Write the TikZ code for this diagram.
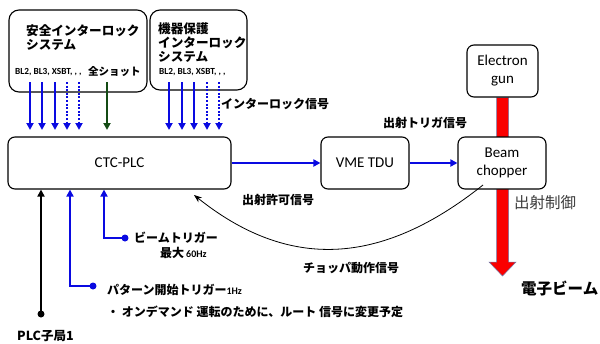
\documentclass[tikz,border=0pt]{standalone}
\usepackage{fontspec}
\setmainfont{Carlito}
\newfontfamily\jp{Noto Sans CJK JP}
\usetikzlibrary{arrows.meta,calc,backgrounds}
\definecolor{sigblue}{RGB}{10,10,225}
\definecolor{sigdark}{RGB}{20,75,20}
\definecolor{beamred}{RGB}{250,0,0}
\definecolor{beamedge}{RGB}{110,120,170}
\definecolor{ctlgray}{RGB}{60,60,60}
\tikzset{
  box/.style={draw, line width=1.1pt, rounded corners=7pt, fill=white, inner sep=0pt,
              font=\fontsize{15}{17}\selectfont, align=center},
  sysbox/.style={box, rounded corners=10pt},
  jb/.style={font=\jp\bfseries\fontsize{12}{14}\selectfont, inner sep=0pt, anchor=west},
  jtitle/.style={font=\jp\bfseries\fontsize{12.6}{14}\selectfont, inner sep=0pt, anchor=west, align=left},
  bltext/.style={font=\bfseries\fontsize{9.3}{10}\selectfont, inner sep=0pt, anchor=west},
  tip/.style={-{Triangle[length=7pt,width=7pt]}},
  sig/.style={draw=sigblue, line width=1.8pt, tip},
  sigdot/.style={sig, dash pattern=on 2pt off 1.6pt},
  sigdark/.style={draw=sigdark, line width=1.8pt, tip},
  plc/.style={draw=black, line width=1.8pt, tip},
  dotend/.style={circle, inner sep=0pt, minimum size=7pt},
}
\begin{document}
\begin{tikzpicture}[x=1pt,y=-1pt]
\useasboundingbox (0,0) rectangle (600,343);

% boxes
\node[sysbox, minimum width=138pt, minimum height=82pt] (sys1) at (78,51) {};
\node[sysbox, minimum width=97pt, minimum height=80pt] (sys2) at (198.5,50) {};
\node[box, minimum width=223pt, minimum height=52pt] (ctc) at (119.5,163) {CTC-PLC};
\node[box, minimum width=88pt, minimum height=52pt] (vme) at (365,163) {VME TDU};
\node[box, minimum width=88pt, minimum height=52pt] (chop) at (502,163) {Beam\\[1pt]chopper};
\node[box, minimum width=71pt, minimum height=52pt] (gun) at (502.5,71) {Electron\\[1pt]gun};

% beam
\begin{pgfonlayer}{background}
\fill[beamred, draw=beamedge, line width=0.5pt]
  ($(gun.south)+(-6,0)$) -- (496.5,262) -- (489,262) -- (502.5,276) -- (516,262)
  -- (508.5,262) -- ($(gun.south)+(6,0)$) -- cycle;
\end{pgfonlayer}

% titles in system boxes
\node[jtitle] (t1) at (26,37.5) {安全インターロック\\システム};
\node[jtitle] (t2) at (158,42.5) {機器保護\\インターロック\\システム};
\node[bltext] (bl1) at (15,72) {BL2, BL3, XSBT, , ,};
\node[bltext] (bl2) at (159,72) {BL2, BL3, XSBT, , ,};
\node[jb, font=\jp\bfseries\fontsize{10.5}{12}\selectfont] (all) at (88,72) {全ショット};

% interlock arrows
\foreach \x in {30,42,55} { \draw[sig] (\x,82) -- (\x,130); }
\foreach \x in {67,79} { \draw[sigdot] (\x,82) -- (\x,130); }
\draw[sigdark] (107,82) -- (107,130);
\foreach \x in {169,182,194} { \draw[sig] (\x,82) -- (\x,130); }
\foreach \x in {207,219} { \draw[sigdot] (\x,82) -- (\x,130); }

\node[jb] (ilk) at (221,104) {インターロック信号};

% horizontal signal chain
\draw[sig] (ctc.east) -- (vme.west);
\draw[sig] (vme.east) -- (chop.west);
\node[jb, anchor=center] (trig) at (425,123) {出射トリガ信号};

% chopper feedback
\coordinate (cs) at (483,185);
\coordinate (ce) at (194,195);
\draw[line width=0.8pt, -{Stealth[length=8pt,width=6pt]}] (cs) .. controls (380,267) and (288,270) .. (ce);
\node[jb] (perm) at (242,200) {出射許可信号};
\node[jb] (chsig) at (303,268) {チョッパ動作信号};

% beam labels
\node[inner sep=0pt, anchor=west, text=ctlgray, font=\jp\fontsize{15.5}{17}\selectfont] (ctl) at (514,203) {出射制御};
\node[inner sep=0pt, anchor=west, font=\jp\bfseries\fontsize{15.5}{17}\selectfont] (eb) at (521,288) {電子ビーム};

% beam trigger
\node[dotend, fill=sigblue] (d1) at (125,238) {};
\coordinate (c1) at (104,238);
\draw[sig] (d1.center) -- (c1) -- (c1 |- ctc.south);
\node[jb] (bt) at (134,238) {ビームトリガー};
\node[jb] (bt2) at (160,253) {最大\,{\rmfamily\bfseries\fontsize{10}{11}\selectfont 60Hz}};

% pattern trigger
\node[dotend, fill=sigblue] (d2) at (93,286) {};
\coordinate (c2) at (70,286);
\draw[sig] (d2.center) -- (c2) -- (c2 |- ctc.south);
\node[jb] (pt) at (107,290) {パターン開始トリガー{\rmfamily\bfseries\fontsize{10}{11}\selectfont 1Hz}};
\node[jb] (pt2) at (107,312) {・ オンデマンド 運転のために、ルート 信号に変更予定};

% PLC slave
\node[dotend, fill=black] (d3) at (41,314) {};
\draw[plc] (d3.center) -- (d3.center |- ctc.south);
\node[jb, font=\jp\bfseries\fontsize{12.5}{14}\selectfont] (plcs) at (17,336) {PLC子局1};
\end{tikzpicture}
\end{document}
